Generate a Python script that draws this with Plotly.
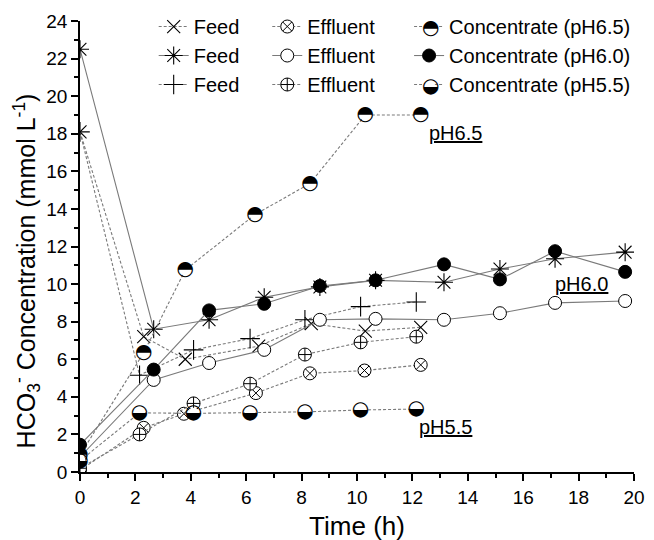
import plotly.graph_objects as go

# ---------------- data ----------------
feed65_t = [0, 2.3, 3.8, 6.45, 8.35, 10.3, 12.3]
feed65 = [18.1, 7.2, 6.0, 6.7, 7.9, 7.5, 7.7]
eff65_t = [0, 2.3, 3.75, 6.35, 8.3, 10.27, 12.3]
eff65 = [0.1, 2.35, 3.1, 4.2, 5.25, 5.4, 5.7]
conc65_t = [0, 2.3, 3.8, 6.32, 8.3, 10.3, 12.3]
conc65 = [0.9, 6.35, 10.75, 13.7, 15.35, 19.0, 19.0]

t60 = [0, 2.66, 4.66, 6.65, 8.66, 10.67, 13.14, 15.16, 17.15, 19.68]
feed60 = [22.5, 7.6, 8.1, 9.3, 9.85, 10.2, 10.1, 10.8, 11.35, 11.7]
eff60 = [0.8, 4.9, 5.8, 6.5, 8.1, 8.15, 8.1, 8.45, 9.0, 9.1]
conc60 = [1.45, 5.45, 8.6, 8.95, 9.9, 10.2, 11.05, 10.25, 11.75, 10.65]

t55 = [0, 2.15, 4.1, 6.14, 8.12, 10.13, 12.14]
feed55 = [18.1, 5.15, 6.5, 7.1, 8.1, 8.8, 9.05]
eff55 = [0.2, 2.0, 3.65, 4.7, 6.25, 6.9, 7.2]
conc55 = [0.6, 3.15, 3.12, 3.15, 3.2, 3.3, 3.35]

names_feed = ["Feed", "Feed", "Feed"]
names_eff = ["Effluent", "Effluent", "Effluent"]
names_conc = ["Concentrate (pH6.5)", "Concentrate (pH6.0)", "Concentrate (pH5.5)"]

x_ticks = list(range(0, 21, 2))
y_ticks = list(range(0, 25, 2))

# ---------------- styling ----------------
FONT = "Liberation Sans, Arial, sans-serif"
LINE_COL = "#7a7a7a"
DOT = "3px,2px"
GLYPH_TOP = "\u25D3"     # circle with upper half black
GLYPH_BOTTOM = "\u25D2"  # circle with lower half black

fig = go.Figure()


def add(x, y, name, legend, dash, symbol, size, fill="white", lw=1.0):
    fig.add_trace(go.Scatter(
        x=x, y=y, name=name, legend=legend, mode="lines+markers",
        line=dict(color=LINE_COL, width=1.1, dash=dash),
        marker=dict(symbol=symbol, size=size, color=fill,
                    line=dict(color="black", width=lw)),
    ))


def add_half(x, y, name, glyph):
    # legend entry (line + white disc; glyph drawn over it)
    fig.add_trace(go.Scatter(
        x=[None], y=[None], name=name, legend="legend3", mode="lines+markers",
        line=dict(color=LINE_COL, width=1.1, dash=DOT),
        marker=dict(symbol="circle", size=11, color="white",
                    line=dict(color="white", width=1)),
    ))
    # data line
    fig.add_trace(go.Scatter(
        x=x, y=y, mode="lines", showlegend=False, hoverinfo="skip",
        line=dict(color=LINE_COL, width=1.1, dash=DOT),
    ))
    # white discs under the glyphs so lines do not show through
    fig.add_trace(go.Scatter(
        x=x, y=y, mode="markers", showlegend=False, hoverinfo="skip",
        marker=dict(symbol="circle", size=11, color="white"),
    ))
    # sharp half-black circle glyphs
    fig.add_trace(go.Scatter(
        x=x, y=y, mode="text", text=[glyph] * len(y), showlegend=False,
        textfont=dict(family="DejaVu Sans", size=20, color="black"),
        textposition="middle center", hoverinfo="skip",
    ))


# Feeds
add(feed65_t, feed65, names_feed[0], "legend", DOT, "x-thin-open", 13, fill="black", lw=1.1)
add(t60, feed60, names_feed[1], "legend", "solid", "asterisk-open", 15, fill="black", lw=1.1)
add(t55, feed55, names_feed[2], "legend", DOT, "cross-thin-open", 14, fill="black", lw=1.1)
# Effluents
add(eff65_t, eff65, names_eff[0], "legend2", DOT, "circle-x", 13)
add(t60, eff60, names_eff[1], "legend2", "solid", "circle", 13)
add(t55, eff55, names_eff[2], "legend2", DOT, "circle-cross", 13)
# Concentrates
add_half(conc65_t, conc65, names_conc[0], GLYPH_TOP)
add(t60, conc60, names_conc[1], "legend3", "solid", "circle", 13, fill="black")
add_half(t55, conc55, names_conc[2], GLYPH_BOTTOM)

axis_common = dict(
    showline=True, linecolor="black", linewidth=1.5, mirror=False,
    showgrid=False, zeroline=False, ticks="outside", ticklen=7, tickwidth=1.5,
    tickcolor="black", tickfont=dict(size=19, family=FONT, color="black"),
    automargin=False,
)

fig.update_xaxes(range=[0, 20], tickmode="array", tickvals=x_ticks,
                 ticktext=[str(v) for v in x_ticks],
                 minor=dict(dtick=1, tick0=0, ticks="outside", ticklen=4,
                            tickwidth=1.5, tickcolor="black"),
                 title=dict(text="Time (h)", font=dict(size=26, family=FONT),
                            standoff=10),
                 **axis_common)
fig.update_yaxes(range=[0, 24], tickmode="array", tickvals=y_ticks,
                 ticktext=[str(v) for v in y_ticks],
                 minor=dict(dtick=1, tick0=0, ticks="outside", ticklen=4,
                            tickwidth=1.5, tickcolor="black"),
                 **axis_common)

leg_common = dict(xanchor="left", yanchor="top", y=1.031,
                  bgcolor="rgba(0,0,0,0)", borderwidth=0,
                  font=dict(size=20, family=FONT, color="black"),
                  tracegroupgap=0, itemwidth=30)

LEG3_X = 0.594
glyph_ann = dict(xref="paper", yref="paper", showarrow=False,
                 xanchor="center", yanchor="middle",
                 font=dict(family="DejaVu Sans", size=20, color="black"))

fig.update_layout(
    width=654, height=540,
    # the page body adds an 8px offset, so margins are trimmed by 8px
    margin=dict(l=72, r=28, t=13, b=76, autoexpand=False),
    paper_bgcolor="white", plot_bgcolor="white",
    font=dict(family=FONT, color="black"),
    showlegend=True,
    legend=dict(x=0.133, **leg_common),
    legend2=dict(x=0.338, **leg_common),
    legend3=dict(x=LEG3_X, **leg_common),
    annotations=[
        dict(x=-0.0965, y=0.446, xref="paper", yref="paper", textangle=-90,
             xanchor="center", yanchor="middle",
             text="HCO<sub>3</sub><sup>-</sup> Concentration (mmol L<sup>-1</sup>)",
             showarrow=False, font=dict(size=25, family=FONT)),
        dict(x=13.54, y=18.04, xref="x", yref="y", text="<u>pH6.5</u>",
             showarrow=False, font=dict(size=20, family=FONT)),
        dict(x=18.09, y=10.0, xref="x", yref="y", text="<u>pH6.0</u>",
             showarrow=False, font=dict(size=20, family=FONT)),
        dict(x=13.21, y=2.38, xref="x", yref="y", text="<u>pH5.5</u>",
             showarrow=False, font=dict(size=20, family=FONT)),
        # half-black legend symbols
        dict(x=LEG3_X + 21.5 / 554, y=1 - 6 / 451, text=GLYPH_TOP, **glyph_ann),
        dict(x=LEG3_X + 21.5 / 554, y=1 - 64 / 451, text=GLYPH_BOTTOM, **glyph_ann),
    ],
)

fig.write_html("out.html")
